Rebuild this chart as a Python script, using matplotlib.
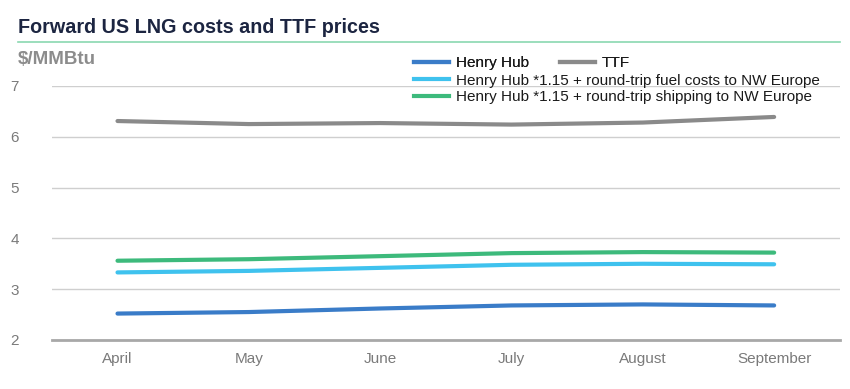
import matplotlib
matplotlib.use("Agg")
import matplotlib.pyplot as plt
from matplotlib.lines import Line2D

months = ["April", "May", "June", "July", "August", "September"]
henry_hub = [2.52, 2.55, 2.62, 2.68, 2.70, 2.68]
ttf = [6.31, 6.25, 6.27, 6.24, 6.28, 6.39]
hh_fuel = [3.33, 3.36, 3.42, 3.48, 3.50, 3.49]
hh_shipping = [3.56, 3.59, 3.65, 3.71, 3.73, 3.72]

labels = ["Henry Hub", "TTF",
          "Henry Hub *1.15 + round-trip fuel costs to NW Europe",
          "Henry Hub *1.15 + round-trip shipping to NW Europe"]
colors = ["#3a7cc8", "#8a8a8a", "#3fc2ee", "#3dba7c"]

plt.rcParams["font.family"] = ["Liberation Sans", "DejaVu Sans"]

fig = plt.figure(figsize=(8.5, 3.89), dpi=100)
ax = fig.add_axes((0.061, 0.126, 0.927, 0.653))

x = list(range(len(months)))
series = [henry_hub, ttf, hh_fuel, hh_shipping]
for vals, col in zip(series, colors):
    ax.plot(x, vals, color=col, lw=3, solid_capstyle="round", zorder=3)

ax.set_xlim(-0.5, len(months) - 0.5)
ax.set_ylim(2, 7)
ax.set_yticks(range(2, 8))
ax.set_xticks(x)
ax.set_xticklabels(months, family=["Liberation Sans Narrow", "Liberation Sans"])
ax.tick_params(axis="both", length=0, colors="#7a7a7a", labelsize=11)
ax.tick_params(axis="x", pad=9)
ax.tick_params(axis="y", pad=30)
for lab in ax.get_yticklabels():
    lab.set_horizontalalignment("left")
ax.grid(axis="y", color="#cfcfcf", lw=1)
for s in ["top", "right", "left"]:
    ax.spines[s].set_visible(False)
ax.spines["bottom"].set_color("#a8a8a8")
ax.spines["bottom"].set_linewidth(2)

# title and rule
fig.text(0.021, 0.915, "Forward US LNG costs and TTF prices", fontsize=14.2,
         fontweight="bold", color="#1c2541", va="baseline")
fig.add_artist(Line2D([0.021, 0.988], [0.893, 0.893], color="#8ad8b0", lw=1.2))
fig.text(0.021, 0.835, "$/MMBtu", fontsize=13.5, fontweight="bold",
         color="#8c8c8c", va="baseline")

# legend
h = [Line2D([], [], color=c, lw=3) for c in colors]
leg1 = fig.legend(h[:2], labels[:2], ncol=2, loc="upper left",
                  bbox_to_anchor=(0.478, 0.876), frameon=False, fontsize=11,
                  handlelength=2.3, handletextpad=0.45, columnspacing=2.0,
                  borderpad=0, labelcolor="#1a1a1a")
leg2 = fig.legend(h[2:], labels[2:], loc="upper left",
                  bbox_to_anchor=(0.478, 0.830), frameon=False, fontsize=11,
                  handlelength=2.3, handletextpad=0.45, labelspacing=0.15,
                  borderpad=0, labelcolor="#1a1a1a")
fig.add_artist(leg1)

fig.savefig("out.png", dpi=100)
